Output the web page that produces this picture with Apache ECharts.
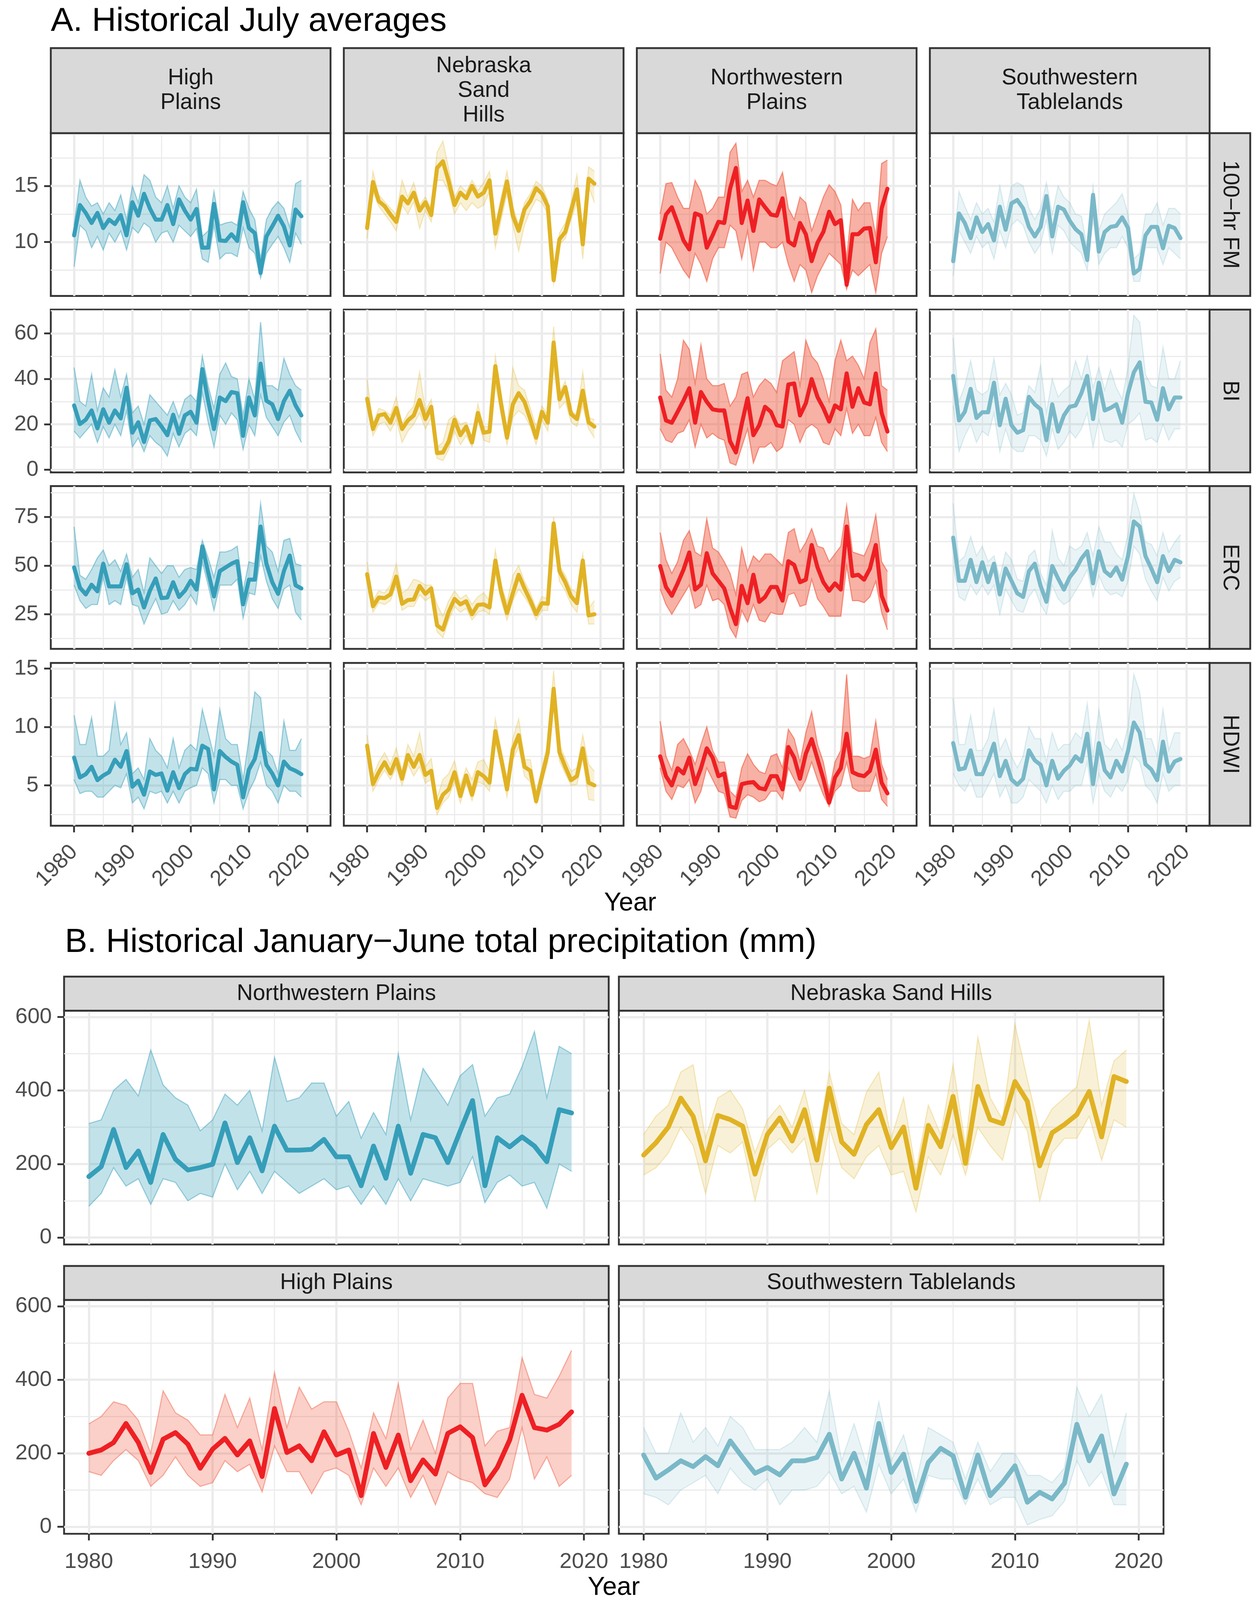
<!DOCTYPE html>
<html><head><meta charset="utf-8">
<script src="https://cdn.jsdelivr.net/npm/echarts@6/dist/echarts.min.js"></script>
<style>html,body{margin:0;padding:0;background:#fff;overflow:hidden}#chart{width:100vw;height:100vh}</style>
</head><body><div id="chart"></div>
<script>
const years = [1980,1981,1982,1983,1984,1985,1986,1987,1988,1989,1990,1991,1992,1993,1994,1995,1996,1997,1998,1999,2000,2001,2002,2003,2004,2005,2006,2007,2008,2009,2010,2011,2012,2013,2014,2015,2016,2017,2018,2019];

const regionsA = ['High\nPlains','Nebraska\nSand\nHills','Northwestern\nPlains','Southwestern\nTablelands'];
const indicesA = ['100\u2212hr FM','BI','ERC','HDWI'];
const regionsB = ['Northwestern Plains','Nebraska Sand Hills','High Plains','Southwestern Tablelands'];
const yearTicks = [1980,1990,2000,2010,2020];
const yearMinor = [1985,1995,2005,2015];
const yTicksA = [[10,15],[0,20,40,60],[25,50,75],[5,10,15]];
const yMinorA = [[7.5,12.5,17.5],[10,30,50,70],[12.5,37.5,62.5,87.5],[2.5,7.5,12.5]];
const yTicksB = [0,200,400,600];
const yMinorB = [100,300,500];

// ---- Panel A: 100-hr FM ----
const A_HP_FM = [10.6,13.3,12.6,11.7,12.6,11.25,12.0,11.6,12.4,10.6,13.55,12.35,14.3,13.0,12.0,12.0,13.3,11.6,13.8,12.8,12.0,12.95,9.5,9.5,13.4,10.15,10.1,10.7,10.1,13.55,11.25,10.8,7.25,10.5,11.4,12.35,11.4,9.7,12.9,12.3];
const A_HP_FM_LO = [7.8,11.5,11,9.5,10.5,9.3,10.8,10,11,9.3,11.3,10.8,11.7,11.3,10,10.8,11,10,11.5,11,10.5,11.2,8.5,8.2,11.5,8.5,9,9,8.7,11.3,9.5,9,6.8,9,9.8,10.5,9.5,8.2,10.8,9.8];
const A_HP_FM_HI = [11.5,15.5,14,13.2,13.5,12.5,13.5,12.8,14.2,12,15,13.5,16,15.5,14,13.5,15,13,15,14,13.5,14.7,10.5,11,14.5,11.5,11.7,11.8,11.5,14.5,13,12,8.5,12,13,13.6,13,11.3,15.2,15.5];
const A_NSH_FM = [11.25,15.35,13.65,13.2,12.45,11.8,14.05,13.45,14.4,12.8,13.55,12.4,16.6,17.2,15.4,13.3,14.4,13.9,15.0,14.05,14.4,15.5,10.75,13.1,15.4,12.35,11.0,12.9,13.65,14.8,14.3,13.2,6.6,10.25,10.9,12.8,14.7,9.8,15.65,15.2];
const A_NSH_FM_LO = [10.3,14.5,13.2,12.5,11.8,11,13.3,12.5,13.6,11.2,12.8,11.8,15.5,15.5,14.5,12.5,13.5,12.8,13.5,13,13.3,14.5,9.5,12,14.3,11.5,9.2,11.5,12.8,13.8,13.5,12.5,6.3,9.8,10.3,12,13.5,8.5,15,13.5];
const A_NSH_FM_HI = [11.5,16.3,14.2,13.6,13,12.5,15.5,14,15.3,13.3,14,13,18,19,16.5,14,15,14.5,15.5,14.6,15.3,16.3,11.5,14,16.3,13.2,11.5,13.5,14.3,15.4,15,13.7,7.2,10.8,11.7,13.5,16,10.5,16.7,16.3];
const A_NWP_FM = [10.3,12.45,13.1,11.7,10.15,9.35,12.55,12.35,9.5,10.6,11.8,11.7,14.75,16.6,11.7,13.7,11.0,13.8,13.1,12.45,12.35,13.9,10.05,9.7,11.7,10.7,8.3,9.95,10.9,12.7,11.6,11.95,6.2,10.7,10.7,11.2,11.25,8.2,13.0,14.75];
const A_NWP_FM_LO = [7.2,10,9.5,8.5,7.5,6.8,9,8,6.5,8.5,9.5,9.5,11.5,11,8.5,11,7.5,10,10,9.5,9.5,10,8,6.5,8,7.5,5.5,7,8,9,8.5,8,5.8,7.5,7,7.5,8,5.5,9,10.5];
const A_NWP_FM_HI = [12.5,15.2,15.3,14,13,13,15.5,14.5,12.5,13,14,14,18,18.8,14.5,15.5,14,15.5,15.5,15.2,15,16.2,13,12,14,13.5,11,12.5,14,15.1,14.5,13.3,8.5,13.8,12.8,13.5,13.5,10.5,17,17.3];
const A_SWT_FM = [8.3,12.55,11.7,10.35,12.2,10.9,11.6,10.15,13.15,11.1,13.45,13.75,13.0,11.35,10.5,11.35,14.1,10.5,13.15,12.9,11.9,11.15,10.7,8.4,14.2,9.15,10.9,11.35,11.45,12.2,11.25,7.2,7.6,10.6,11.35,11.35,9.45,11.45,11.25,10.35];
const A_SWT_FM_LO = [7,11,10,9,10.5,9.5,10,8.5,11,9.5,11.5,12,11.5,10,9,9.8,12,9,11.5,11,10,9.5,9,7.5,12,8,9,9.5,9.5,10.5,9.5,6.5,6.5,9.5,9.5,9.5,8,9.5,9,8.5];
const A_SWT_FM_HI = [9.5,14.5,13.2,12,13.5,12.5,13,11.8,15,12.5,15,15.3,15,13,12,13,15.3,12.5,15,14,13.5,12.5,12.3,9.5,15,11,12.5,13,13.5,14.3,12.5,8.5,9,12.5,12.5,13.5,11.5,13,13,12.5];

// ---- Panel A: BI ----
const A_HP_BI = [28.3,20.1,22,26.1,18.2,26.6,20.7,26.1,22.6,36.1,16.3,20.9,12.2,21.7,22.3,19.0,15.2,24.2,15.8,23.9,25.5,20.7,44.3,30.4,17.9,31.8,30.2,34.2,33.7,14.9,31.8,23.9,46.7,30.4,28.8,22.3,30.2,34.8,28.3,23.9];
const A_HP_BI_LO = [17,14,17,20,12,19,14,20,15,26,10,14,8,15,12,10,6,16,10,16,18,15,34,21,10,24,20,25,22,9,20,15,33,23,19,15,21,24,17,12];
const A_HP_BI_HI = [45,30,28,42,26,36,32,44,32,42,25,28,20,33,30,27,24,30,23,31,33,30,50,37,27,42,47,41,40,24,40,31,65,37,37,35,49,42,37,35];
const A_NSH_BI = [31.25,17.9,23.9,24.5,20.7,27.2,17.9,21.7,23.9,30.7,22.3,27.7,7.3,7.6,12.5,22,15.2,19,12,25,16.3,16.8,45.6,28.8,14.1,28.8,33.7,29.9,22.3,14.1,25.5,20.7,56,31,36.4,24.5,22.3,34.8,20.9,19];
const A_NSH_BI_LO = [28,15,20,21,17,22,12,17,20,25,18,23,5,4,9,17,11,15,10,22,13,12,38,24,11,23,26,24,19,11,22,17,45,27,30,21,19,28,18,14];
const A_NSH_BI_HI = [40,20,27,26,24,32,20,25,28,43,26,31,10,12,22,24,20,21,14,29,19,19,50,33,18,45,37,35,27,19,28,24,63,34,39,26,24,43,23,22];
const A_NWP_BI = [31.8,21.7,20.7,25.5,30.4,35.9,20.7,34.2,29.9,26.6,26.1,26.1,12.5,7.6,20.1,31.5,15.2,19.6,27.7,25.5,19.6,19.0,37.5,38.0,23.9,29.3,39.9,32,27.2,21.2,28.3,26.6,42.4,27.7,35.9,29.6,28.8,42.4,25,16.8];
const A_NWP_BI_LO = [18,13,12,16,17,22,10,20,14,16,14,13,3,2,10,18,3,10,10,12,8,10,22,20,12,18,20,18,12,11,18,15,27,16,20,15,15,23,12,8];
const A_NWP_BI_HI = [51,35,32,40,57,53,38,55,40,37,37,38,28,32,42,43,32,37,40,38,34,48,50,52,37,57,50,47,40,30,48,57,48,50,46,40,56,62,37,35];
const A_SWT_BI = [41.3,21.7,25.5,35.6,22.8,25.3,25.3,38.3,19.6,31.25,19.6,16.3,17.4,32.1,28.8,26.6,13.0,28.8,16.8,23.9,27.7,28.3,33.7,41.3,22.3,38.3,26.1,27.2,28.8,20.7,33.7,42.9,47.3,29.9,29.6,22,35.9,26.6,31.8,31.8];
const A_SWT_BI_LO = [28,8,15,20,12,17,15,25,8,18,10,8,8,15,15,13,6,18,9,12,17,14,18,25,10,22,13,12,13,10,20,22,25,13,14,12,20,13,18,18];
const A_SWT_BI_HI = [58,30,37,48,35,33,35,49,33,38,33,24,25,37,34,46,25,40,32,35,37,48,40,50,36,45,35,44,36,31,45,68,65,42,37,36,54,40,40,48];

// ---- Panel A: ERC ----
const A_HP_ERC = [49.1,38.7,35.2,40.2,36.8,51.0,39.3,39.3,39.3,50.7,35.8,37.7,28.5,37.1,43.4,33.3,33.6,41.5,33.9,37.1,42.2,37.7,59.9,46.6,34.2,47.2,49.1,51.0,52.3,30.1,42.8,42.8,70.1,51.0,41.5,35.5,47.2,55.2,39.9,38.3];
const A_HP_ERC_LO = [40,32,28,30,30,44,30,32,30,44,30,29,20,27,33,25,26,32,27,30,35,30,52,40,27,40,40,40,43,23,36,35,55,42,33,28,38,40,26,22];
const A_HP_ERC_HI = [70,45,43,48,54,58,50,53,47,56,44,48,36,54,50,46,50,50,44,48,49,48,63,54,44,57,57,58,60,37,52,51,82,60,57,47,63,64,51,50];
const A_NSH_ERC = [45.6,29.1,33.6,33.3,35.2,44.4,30.4,32.3,32.6,39.6,35.5,38.3,19.3,17.1,26.3,32.9,30.1,31.7,25,29.8,30.1,28.5,52.6,36.4,25.6,35.8,45.3,38.3,32,25,30.7,30.4,71.7,47.2,41.5,34.2,30.7,52.6,24.4,25];
const A_NSH_ERC_LO = [42,26,31,30,32,40,27,29,29,35,32,34,16,13,22,29,26,28,22,26,27,25,47,32,22,32,38,34,29,22,27,27,66,42,37,30,26,45,20,20];
const A_NSH_ERC_HI = [52,32,37,36,40,51,36,38,43,42,40,40,30,24,32,37,33,35,30,34,36,32,58,40,31,45,50,42,36,28,34,33,75,50,45,38,36,56,28,32];
const A_NWP_ERC = [49.8,39,34.5,40.9,47.9,56.8,37.7,40.2,56.4,46,42.2,38.3,28.2,19.9,39.6,30.7,45.3,31.4,33.9,39,39,32,52.3,50.4,41.5,42.8,60.6,49.1,41.5,37.1,40.9,37.7,70.1,44.7,45.3,42.8,48.5,60.6,34.5,26.9];
const A_NWP_ERC_LO = [38,30,25,30,35,40,28,30,40,32,33,30,18,13,27,21,30,22,21,26,25,25,35,36,29,30,43,33,29,24,24,24,50,32,32,31,34,42,26,17];
const A_NWP_ERC_HI = [67,53,46,52,63,68,57,55,74,59,57,52,46,35,59,47,55,52,56,56,53,50,67,69,57,62,69,60,59,52,56,60,81,57,56,55,62,76,52,47];
const A_SWT_ERC = [64.4,42.2,42.2,53,41.5,51.7,41.5,51,35.2,48.5,42.2,35.8,33.9,47.2,51,39.6,31.4,49.8,43.4,37.7,44.1,47.9,53.6,57.4,40.9,57.4,47.2,44.7,49.1,42.8,54.9,72.7,70.1,54.9,48.5,41.5,54.9,47.2,53,51.7];
const A_SWT_ERC_LO = [50,34,32,40,35,40,35,40,25,38,32,27,26,34,38,30,25,40,33,30,32,37,42,48,34,45,38,35,36,34,42,60,56,43,37,32,44,37,42,44];
const A_SWT_ERC_HI = [82,52,55,65,55,60,52,55,44,57,53,43,42,55,58,46,40,68,54,50,60,58,60,67,55,70,62,62,56,53,66,87,77,62,61,55,67,57,62,66];

// ---- Panel A: HDWI ----
const A_HP_HDWI = [7.38,5.68,5.96,6.59,5.45,5.85,6.13,7.2,6.59,7.94,4.89,5.4,4.2,6.19,5.9,6.02,4.55,6.13,4.77,5.96,6.42,6.36,8.4,8.11,4.66,7.94,7.43,7.04,6.76,3.98,6.36,7.26,9.47,6.76,6.02,5.0,7.04,6.47,6.25,5.96];
const A_HP_HDWI_LO = [5.5,4.3,4.5,4.5,4,4,4.5,5,4.8,6,3.5,4,3,4.5,4.3,4.5,3.5,4.5,3.5,4.5,4.8,5,6.5,6,3.5,5.5,5.5,5,5,3,4.5,5.5,7,5,4.5,3.5,5,4.5,4.5,4];
const A_HP_HDWI_HI = [11,8.5,8.5,10.8,7.5,7.5,8,12,8.5,9.5,6,6.5,5.5,9,8,7.5,6.5,9,6.5,8,8.5,8,11.5,9.5,7.5,11.5,9,8.5,8.5,5.5,9,13,12.5,8,7.5,6,10.5,8,8,9];
const A_NSH_HDWI = [8.4,5.11,6.13,6.98,6.02,7.26,5.57,7.6,6.59,7.6,5.9,6.25,3.07,4.2,4.66,6.13,4.09,5.85,4.2,6.13,5.79,5.23,9.64,7.26,4.66,8.06,9.3,6.59,6.25,3.64,5.79,7.83,13.27,7.83,6.59,5.45,5.79,8.17,5.23,5.0];
const A_NSH_HDWI_LO = [7.7,4.5,5.5,6.3,5.5,6.5,5,6.8,5.8,6.6,5.2,5.5,2.5,3.5,4,5.3,3.5,5.2,3.7,5.3,5.1,4.5,8.8,6.5,4,7.2,8.3,5.8,5.3,3.4,5.2,7,11.8,7.1,6,5,5.1,7.3,3.8,3.7];
const A_NSH_HDWI_HI = [9.3,5.8,7,7.8,6.8,8.2,6.3,8.5,7.5,9.5,6.6,7.3,3.9,5.5,6,7.1,5,6.5,5.5,7,7.2,6.2,10.7,8,5.7,9,10.7,7.2,7.2,4.4,6.5,8.6,14.8,8.5,7.3,6.2,6.5,9.3,6.8,6.2];
const A_NWP_HDWI = [7.49,5.79,5.0,6.47,6.02,7.38,5.11,6.47,8.17,7.38,5.79,6.02,3.19,3.07,5.11,5.23,5.28,4.77,4.66,5.79,5.79,4.66,8.28,7.38,5.57,7.72,8.96,7.26,5.57,3.53,5.68,6.47,9.42,6.13,5.9,5.79,6.25,8.06,5.23,4.32];
const A_NWP_HDWI_LO = [6.5,4.5,3.8,5,4.8,5.5,3.5,4.5,6.5,5.5,4.5,4.3,2.3,2.2,3.7,4.2,4,3.6,3.8,4.5,4.5,3.8,6.5,5.5,4.5,5.5,7,5.5,4.2,3.2,4.5,5,7,4.8,4.5,4.5,4.5,6,3.8,3.2];
const A_NWP_HDWI_HI = [10.5,7.5,6.3,8.5,9,8,6.8,8.5,10,8,7,7,4.5,4,6.5,7.7,6.8,6.2,6,7.5,7.7,6.5,9.8,9,7,9.5,11.3,8.5,7,4.5,7,8,14.5,7.5,7.5,7.3,7.5,10.5,6.8,5.5];
const A_SWT_HDWI = [8.62,6.36,6.47,8.0,5.96,5.96,7.15,8.57,5.79,7.1,5.51,5.06,5.57,8.0,7.15,6.76,5.0,7.1,5.57,6.25,6.7,7.49,7.04,9.42,5.11,8.62,6.3,5.68,7.1,6.19,7.94,10.38,9.53,6.81,6.36,5.45,8.74,6.19,7.04,7.26];
const A_SWT_HDWI_LO = [6,5,4.5,5.5,4,4,5,6,4,5,3.5,3.5,4,5.5,5,4.5,3.5,5,3.8,4.5,4.5,5,5,7,3.5,6,4.5,4,5,4.5,5.5,7.5,7,5,4.5,3.5,6,4.5,5,5];
const A_SWT_HDWI_HI = [12.5,8.5,8.5,11,8,8,9,11.5,8,9,7.5,6.5,7.5,10,9,9,7,9.5,8,8.5,8.5,9.5,9,12,7.5,11.5,8.5,8,9,8,10,14.5,13,9,9,7.5,11.5,8,9.5,9.5];

// ---- Panel B: Jan-Jun precipitation (mm) ----
const B_NWP = [165.6,192.6,293.8,190.3,235.3,149.8,280.3,212.8,183.6,190.3,199.3,311.8,203.8,271.3,181.3,302.8,237.6,237.6,239.8,266.8,219.6,219.6,140.8,248.8,161.1,302.8,174.6,280.3,271.3,203.8,289.3,372.6,140.8,271.3,246.6,273.6,248.8,206.1,347.8,338.8];
const B_NWP_LO = [85,120,190,140,160,90,160,150,100,120,110,200,130,180,120,180,150,120,140,160,130,140,90,140,90,160,100,160,150,140,150,220,95,150,170,140,150,80,200,180];
const B_NWP_HI = [310,320,400,430,385,510,415,380,360,290,320,390,360,400,290,490,370,380,420,420,330,370,270,340,280,500,320,460,410,360,440,470,330,380,390,465,560,380,520,500];
const B_NSH = [224,257.8,300.6,379.3,329.8,208.3,332,320.8,302.8,172.3,280.3,325.3,262.3,347.8,210.6,406.3,260,226.3,307.3,347.8,244.3,300.6,134.1,305.1,246.6,383.8,201.6,410.8,320.8,309.6,424.3,370.3,194.8,284.8,307.3,334.3,397.3,273.6,437.8,424.3];
const B_NSH_LO = [170,190,230,300,250,120,250,230,260,100,240,270,230,270,120,300,190,160,220,250,170,180,70,220,170,280,170,300,250,210,350,290,100,230,270,270,330,210,320,300];
const B_NSH_HI = [280,330,360,450,470,270,380,400,350,230,320,360,300,400,250,450,310,280,395,450,270,380,180,360,280,470,250,545,380,320,580,430,290,350,380,410,590,360,480,510];
const B_HP = [199.9,208.9,229.2,281.1,229.2,148,238.2,256.2,224.7,159.3,211.2,240.5,195.4,233.7,136.7,321.7,202.1,220.2,179.6,258.5,195.4,208.9,84.8,254,161.5,249.5,125.4,181.8,143.5,254,272,242.7,114.1,161.5,236,357.8,269.8,263,278.8,312.6];
const B_HP_LO = [150,140,180,210,180,110,140,190,140,110,120,180,150,170,95,220,150,150,90,150,160,140,60,160,110,160,80,140,60,150,130,120,90,80,130,270,130,190,110,140];
const B_HP_HI = [280,300,340,330,290,200,370,310,290,250,250,360,270,350,210,420,270,380,320,340,340,260,160,310,240,390,210,290,200,350,390,390,220,260,270,460,360,350,410,480];
const B_SWT = [195.3,132.2,154.7,179.6,163.8,190.8,166,233.7,188.6,145.7,161.5,141.2,179.6,179.6,188.6,251.7,129.9,199.9,105.1,281.1,148,197.6,69,175,213.4,193.1,80.3,195.3,84.8,120.9,166,66.8,93.8,75.8,118.6,278.8,179.6,247.2,89.3,170.5];
const B_SWT_LO = [90,80,60,100,120,140,90,160,120,100,130,60,100,100,110,150,90,110,40,170,90,130,40,140,130,130,60,130,60,80,80,5,20,30,70,180,110,150,60,60];
const B_SWT_HI = [270,200,200,310,230,270,220,300,270,210,210,210,230,270,230,370,180,280,170,340,180,250,120,270,250,230,130,230,150,200,200,140,140,120,160,380,300,360,190,310];

// ---------------- styling / layout ----------------
const FONT = '"Liberation Sans", Arial, Helvetica, sans-serif';
const BLUE = '#369EB9', GOLD = '#E0B224', RED = '#EE2024', REDBAND = '#F0553A', LBLUE = '#7AB8C8';
const colorsA = [BLUE, GOLD, RED, LBLUE];
const bandColorsA = [BLUE, GOLD, REDBAND, LBLUE];
const bandOpA = [0.3, 0.18, 0.46, 0.16];
const colorsB = [BLUE, GOLD, RED, LBLUE];
const bandColorsB = [BLUE, GOLD, REDBAND, LBLUE];
const bandOpB = [0.3, 0.18, 0.28, 0.16];

const A_MAIN = [[A_HP_FM,A_NSH_FM,A_NWP_FM,A_SWT_FM],[A_HP_BI,A_NSH_BI,A_NWP_BI,A_SWT_BI],[A_HP_ERC,A_NSH_ERC,A_NWP_ERC,A_SWT_ERC],[A_HP_HDWI,A_NSH_HDWI,A_NWP_HDWI,A_SWT_HDWI]];
const A_LO = [[A_HP_FM_LO,A_NSH_FM_LO,A_NWP_FM_LO,A_SWT_FM_LO],[A_HP_BI_LO,A_NSH_BI_LO,A_NWP_BI_LO,A_SWT_BI_LO],[A_HP_ERC_LO,A_NSH_ERC_LO,A_NWP_ERC_LO,A_SWT_ERC_LO],[A_HP_HDWI_LO,A_NSH_HDWI_LO,A_NWP_HDWI_LO,A_SWT_HDWI_LO]];
const A_HI = [[A_HP_FM_HI,A_NSH_FM_HI,A_NWP_FM_HI,A_SWT_FM_HI],[A_HP_BI_HI,A_NSH_BI_HI,A_NWP_BI_HI,A_SWT_BI_HI],[A_HP_ERC_HI,A_NSH_ERC_HI,A_NWP_ERC_HI,A_SWT_ERC_HI],[A_HP_HDWI_HI,A_NSH_HDWI_HI,A_NWP_HDWI_HI,A_SWT_HDWI_HI]];
const B_MAIN = [B_NWP, B_NSH, B_HP, B_SWT];
const B_LO = [B_NWP_LO, B_NSH_LO, B_HP_LO, B_SWT_LO];
const B_HI = [B_NWP_HI, B_NSH_HI, B_HP_HI, B_SWT_HI];

// design canvas 3225 x 4325, scaled to the actual viewport
const VW = window.innerWidth || 3225, VH = window.innerHeight || 4325;
const SX = VW / 3225, SY = VH / 4325, SF = Math.min(SX, SY);
const X = v => v * SX, Y = v => v * SY, F = v => Math.round(v * SF * 10) / 10, T = v => Math.round(v * SX * 10) / 10;

const A_COL_X = [130, 880, 1630, 2380], A_W = 716;
const A_ROW_Y = [360, 837, 1314, 1792], A_H = 440;
const A_YRANGE = [[5.2,19.7],[-1.2,70.5],[7.2,90.9],[1.55,15.48]];
const A_XRANGE = [1976, 2024];
const B_COL_X = [164, 1584], B_W = 1394;
const B_ROW_Y = [2732, 3514], B_H = 632;
const B_YRANGE = [-19, 617];
const B_XRANGE = [1978, 2022];

function rgba(hex, a) {
  const n = parseInt(hex.slice(1), 16);
  return 'rgba(' + ((n >> 16) & 255) + ',' + ((n >> 8) & 255) + ',' + (n & 255) + ',' + a + ')';
}

const grids = [], xAxes = [], yAxes = [], series = [], graphics = [];
const tickStyle = {color: '#333333', width: F(5)};
const labelStyle = {fontSize: T(56), fontFamily: FONT, color: '#4D4D4D'};

function addPanel(p) {
  grids.push({left: X(p.left), top: Y(p.top), width: X(p.width), height: Y(p.height), show: true,
    backgroundColor: '#FFFFFF', borderColor: '#333333', borderWidth: F(5)});
  const g = grids.length - 1;
  xAxes.push({type: 'value', gridIndex: g, position: 'bottom', min: p.xr[0], max: p.xr[1],
    axisLine: {show: false, onZero: false},
    axisTick: {show: p.showX, length: F(18), lineStyle: tickStyle, customValues: yearTicks},
    axisLabel: Object.assign({show: p.showX, customValues: yearTicks, rotate: p.rotate, margin: F(p.xMargin),
      formatter: v => String(v)}, labelStyle),
    splitLine: {show: true, lineStyle: {color: '#EBEBEB', width: F(6)}}});
  xAxes.push({type: 'value', gridIndex: g, position: 'top', min: p.xr[0], max: p.xr[1],
    axisLine: {show: false, onZero: false},
    axisTick: {show: false, customValues: yearMinor},
    axisLabel: {show: false, customValues: yearMinor},
    splitLine: {show: true, lineStyle: {color: '#EBEBEB', width: F(3)}}});
  yAxes.push({type: 'value', gridIndex: g, position: 'left', min: p.yr[0], max: p.yr[1],
    axisLine: {show: false, onZero: false},
    axisTick: {show: p.showY, length: F(18), lineStyle: tickStyle, customValues: p.yTicks},
    axisLabel: Object.assign({show: p.showY, customValues: p.yTicks, margin: F(33), formatter: v => String(v)}, labelStyle),
    splitLine: {show: true, lineStyle: {color: '#EBEBEB', width: F(6)}}});
  yAxes.push({type: 'value', gridIndex: g, position: 'right', min: p.yr[0], max: p.yr[1],
    axisLine: {show: false, onZero: false},
    axisTick: {show: false, customValues: p.yMinor},
    axisLabel: {show: false, customValues: p.yMinor},
    splitLine: {show: true, lineStyle: {color: '#EBEBEB', width: F(3)}}});
  const lo = p.lo, hi = p.hi, fill = rgba(p.bandColor, p.bandOp), edge = rgba(p.bandColor, Math.min(0.6, p.bandOp * 1.6));
  series.push({type: 'custom', xAxisIndex: 2 * g, yAxisIndex: 2 * g, clip: true, silent: true, z: 2,
    data: years.map((y, i) => [y, lo[i], hi[i]]),
    encode: {x: 0, y: [1, 2]},
    renderItem: function (params, api) {
      if (params.dataIndex !== 0) return null;
      const top = [], bot = [];
      for (let i = 0; i < years.length; i++) {
        top.push(api.coord([years[i], hi[i]]));
        bot.push(api.coord([years[i], lo[i]]));
      }
      return {type: 'group', children: [
        {type: 'polygon', shape: {points: top.concat(bot.slice().reverse())}, style: {fill: fill}},
        {type: 'polyline', shape: {points: top}, style: {fill: null, stroke: edge, lineWidth: F(3)}},
        {type: 'polyline', shape: {points: bot}, style: {fill: null, stroke: edge, lineWidth: F(3)}}
      ]};
    }});
  series.push({type: 'line', xAxisIndex: 2 * g, yAxisIndex: 2 * g, z: 3, silent: true,
    symbol: 'none', data: years.map((y, i) => [y, p.main[i]]),
    lineStyle: {color: p.color, width: F(p.lineWidth), join: 'round', cap: 'round'}});
}

// Panel A grids
for (let r = 0; r < 4; r++) {
  for (let c = 0; c < 4; c++) {
    addPanel({left: A_COL_X[c], top: A_ROW_Y[r], width: A_W, height: A_H,
      xr: A_XRANGE, yr: A_YRANGE[r], yTicks: yTicksA[r], yMinor: yMinorA[r],
      showX: r === 3, showY: c === 0, rotate: 45, xMargin: 62,
      main: A_MAIN[r][c], lo: A_LO[r][c], hi: A_HI[r][c],
      color: colorsA[c], bandColor: bandColorsA[c], bandOp: bandOpA[c], lineWidth: 11});
  }
}
// Panel B grids
for (let k = 0; k < 4; k++) {
  const r = Math.floor(k / 2), c = k % 2;
  addPanel({left: B_COL_X[c], top: B_ROW_Y[r], width: B_W, height: B_H,
    xr: B_XRANGE, yr: B_YRANGE, yTicks: yTicksB, yMinor: yMinorB,
    showX: r === 1, showY: c === 0, rotate: 0, xMargin: 46,
    main: B_MAIN[k], lo: B_LO[k], hi: B_HI[k],
    color: colorsB[k], bandColor: bandColorsB[k], bandOp: bandOpB[k], lineWidth: 13});
}

// strips and texts
function txt(text, x, y, size, color, align, rot) {
  const el = {type: 'text', x: X(x), y: Y(y), z: 20,
    style: {text: text, x: 0, y: 0, font: T(size) + 'px ' + FONT, fill: color,
      align: align, verticalAlign: 'middle', textAlign: align, textVerticalAlign: 'middle',
      lineHeight: Math.round(T(size) * 1.1)}};
  if (rot) el.rotation = rot;
  return el;
}
function strip(x, y, w, h) {
  return {type: 'rect', z: 19, shape: {x: X(x), y: Y(y), width: X(w), height: Y(h)},
    style: {fill: '#D9D9D9', stroke: '#333333', lineWidth: F(5)}};
}
for (let c = 0; c < 4; c++) {
  graphics.push(strip(A_COL_X[c], 130, A_W, 230));
  graphics.push(txt(regionsA[c], A_COL_X[c] + A_W / 2, 245, 57, '#1A1A1A', 'center'));
}
for (let r = 0; r < 4; r++) {
  graphics.push(strip(3096, A_ROW_Y[r], 104, A_H));
  graphics.push(txt(indicesA[r], 3148, A_ROW_Y[r] + A_H / 2, 57, '#1A1A1A', 'center', -Math.PI / 2));
}
for (let k = 0; k < 4; k++) {
  const r = Math.floor(k / 2), c = k % 2;
  graphics.push(strip(B_COL_X[c], B_ROW_Y[r] - 92, B_W, 92));
  graphics.push(txt(regionsB[k], B_COL_X[c] + B_W / 2, B_ROW_Y[r] - 46, 57, '#1A1A1A', 'center'));
}
graphics.push(txt('A. Historical July averages', 130, 58, 86, '#000000', 'left'));
graphics.push(txt('B. Historical January\u2212June total precipitation (mm)', 166, 2548, 86, '#000000', 'left'));
graphics.push(txt('Year', 1613, 2442, 66, '#000000', 'center'));
graphics.push(txt('Year', 1571, 4292, 66, '#000000', 'center'));

const chart = echarts.init(document.getElementById('chart'), null, {renderer: 'canvas', width: VW, height: VH});
chart.setOption({
  animation: false,
  backgroundColor: '#FFFFFF',
  grid: grids, xAxis: xAxes, yAxis: yAxes, series: series, graphic: graphics
});
</script></body></html>
